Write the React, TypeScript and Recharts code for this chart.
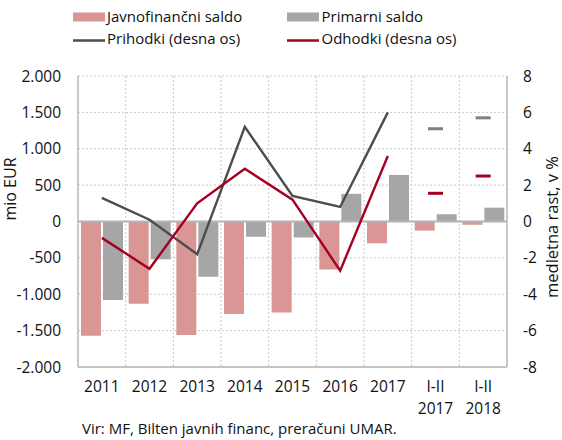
import { Bar, CartesianGrid, ComposedChart, Line, ReferenceLine, XAxis, YAxis } from 'recharts'

const categories = ['2011', '2012', '2013', '2014', '2015', '2016', '2017', 'I-II\n2017', 'I-II\n2018']
const javnofinancniSaldo = [-1570, -1130, -1560, -1270, -1250, -660, -300, -125, -45]
const primarniSaldo = [-1080, -520, -760, -210, -220, 380, 640, 100, 190]
const prihodki = [1.3, 0.1, -1.8, 5.2, 1.4, 0.8, 6.0, null, null]
const odhodki = [-0.9, -2.6, 1.0, 2.9, 1.2, -2.7, 3.6, null, null]
const prihodkiJanFeb = [null, null, null, null, null, null, null, 5.1, 5.7]
const odhodkiJanFeb = [null, null, null, null, null, null, null, 1.55, 2.5]

const leftTicks = [-2000, -1500, -1000, -500, 0, 500, 1000, 1500, 2000]
const rightTicks = [-8, -6, -4, -2, 0, 2, 4, 6, 8]

const data = categories.map((cat, i) => ({
    cat,
    javno: javnofinancniSaldo[i],
    primarni: primarniSaldo[i],
    prihodki: prihodki[i],
    odhodki: odhodki[i],
    prihodkiJF: prihodkiJanFeb[i],
    odhodkiJF: odhodkiJanFeb[i],
}))

const FONT = '"Open Sans", sans-serif'
const TEXT = '#111'
const PINK = '#d99694'
const GRAY_BAR = '#a6a6a6'
const GRAY_LINE = '#4d4d4d'
const RED = '#a50021'
const BORDER = '#b4b4b4'

const fmtThousands = (v: number) => {
    const s = Math.abs(v).toString().replace(/\B(?=(\d{3})+(?!\d))/g, '.')
    return (v < 0 ? '-' : '') + s
}

const XTick = ({ x, y, payload }: any) => {
    const lines = String(payload.value).split('\n')
    return (
        <text x={x} y={y} textAnchor="middle" fill={TEXT} fontSize={15.5} fontFamily={FONT}>
            {lines.map((l, i) => (
                <tspan key={i} x={x} dy={i === 0 ? 23 : 21.7}>
                    {l}
                </tspan>
            ))}
        </text>
    )
}

const dashDot = (color: string) => (props: any) => {
    const { cx, cy, index } = props
    if (cx == null || cy == null) return <g key={index} />
    return <rect key={index} x={cx - 7.5} y={cy - 1.5} width={15} height={3} fill={color} />
}

export default function App() {
    const tickStyle = { fill: TEXT, fontSize: 15.5, fontFamily: FONT }
    return (
        <div style={{ position: 'relative', width: 562, height: 440, background: '#fff', fontFamily: FONT }}>
            <style>{'body{margin:0}'}</style>
            <ComposedChart
                width={562}
                height={420}
                data={data}
                margin={{ top: 76, right: 0, bottom: 3, left: 0 }}
                barSize={20}
                barGap={2}
            >
                <CartesianGrid
                    yAxisId="left"
                    stroke="#c8c8c8"
                    strokeDasharray="2 2"
                    verticalCoordinatesGenerator={({ offset }: any) =>
                        Array.from(
                            { length: categories.length + 1 },
                            (_, i) => offset.left + (i * offset.width) / categories.length
                        )
                    }
                />
                <XAxis
                    dataKey="cat"
                    height={50}
                    tickSize={0}
                    tickLine={false}
                    interval={0}
                    axisLine={{ stroke: BORDER, strokeWidth: 1.3 }}
                    tick={<XTick />}
                />
                <XAxis
                    xAxisId="top"
                    dataKey="cat"
                    orientation="top"
                    height={0}
                    tick={false}
                    tickLine={false}
                    axisLine={{ stroke: BORDER, strokeWidth: 1.3 }}
                />
                <YAxis
                    yAxisId="left"
                    width={78}
                    domain={[-2000, 2000]}
                    ticks={leftTicks}
                    tickFormatter={fmtThousands}
                    tickSize={0}
                    tickMargin={17}
                    tickLine={false}
                    axisLine={{ stroke: BORDER, strokeWidth: 1.3 }}
                    tick={tickStyle}
                />
                <YAxis
                    yAxisId="right"
                    orientation="right"
                    width={55}
                    domain={[-8, 8]}
                    ticks={rightTicks}
                    tickSize={0}
                    tickMargin={16}
                    tickLine={false}
                    axisLine={{ stroke: BORDER, strokeWidth: 1.3 }}
                    tick={tickStyle}
                />
                <Bar yAxisId="left" dataKey="javno" fill={PINK} isAnimationActive={false} />
                <Bar yAxisId="left" dataKey="primarni" fill={GRAY_BAR} isAnimationActive={false} />
                <ReferenceLine yAxisId="left" y={0} stroke={BORDER} strokeWidth={2} />
                <Line
                    yAxisId="right"
                    dataKey="prihodki"
                    stroke={GRAY_LINE}
                    strokeWidth={2.4}
                    dot={false}
                    isAnimationActive={false}
                />
                <Line
                    yAxisId="right"
                    dataKey="odhodki"
                    stroke={RED}
                    strokeWidth={2.4}
                    dot={false}
                    isAnimationActive={false}
                />
                <Line
                    yAxisId="right"
                    dataKey="prihodkiJF"
                    stroke="none"
                    dot={dashDot('#808080')}
                    activeDot={false}
                    isAnimationActive={false}
                />
                <Line
                    yAxisId="right"
                    dataKey="odhodkiJF"
                    stroke="none"
                    dot={dashDot(RED)}
                    activeDot={false}
                    isAnimationActive={false}
                />
            </ComposedChart>
            <svg
                width={562}
                height={440}
                style={{ position: 'absolute', left: 0, top: 0, pointerEvents: 'none' }}
                fontFamily={FONT}
                fontSize={15}
                fill={TEXT}
            >
                <rect x={73} y={12.5} width={32} height={9} fill={PINK} />
                <text x={107} y={22}>Javnofinančni saldo</text>
                <rect x={287} y={12.5} width={32} height={9} fill={GRAY_BAR} />
                <text x={321.5} y={22}>Primarni saldo</text>
                <line x1={73} x2={105} y1={40.5} y2={40.5} stroke={GRAY_LINE} strokeWidth={2.5} />
                <text x={107} y={43.5}>Prihodki (desna os)</text>
                <line x1={287} x2={319} y1={40.5} y2={40.5} stroke={RED} strokeWidth={2.5} />
                <text x={321.5} y={43.5}>Odhodki (desna os)</text>
                <text x={16} y={189} fontSize={16} textAnchor="middle" transform="rotate(-90 16 189)">
                    mio EUR
                </text>
                <text x={558} y={227} fontSize={16.5} textAnchor="middle" transform="rotate(-90 558 227)">
                    medletna rast, v %
                </text>
                <text x={82} y={434}>Vir: MF, Bilten javnih financ, preračuni UMAR.</text>
            </svg>
        </div>
    )
}
